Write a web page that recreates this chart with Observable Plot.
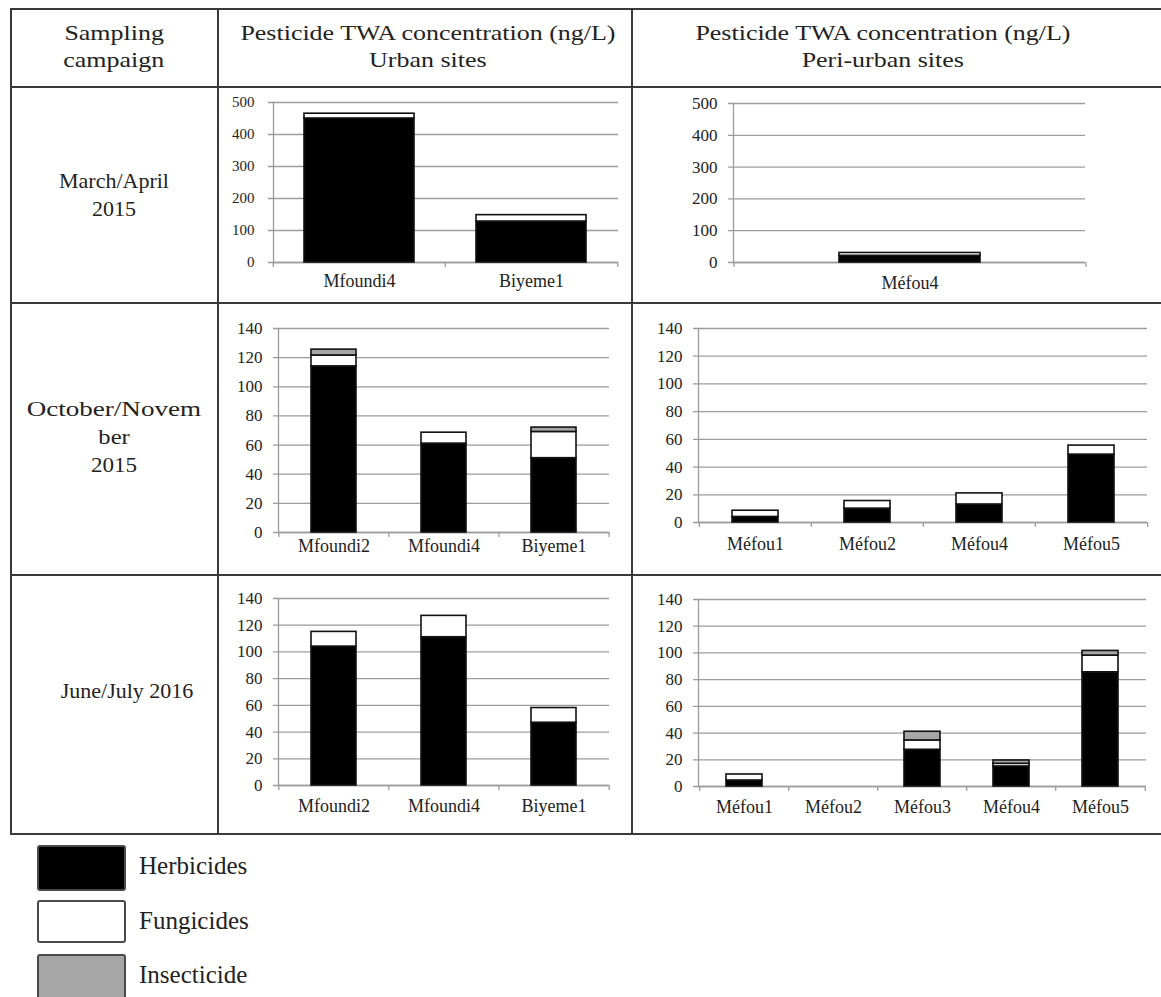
<!DOCTYPE html>
<html>
<head>
<meta charset="utf-8">
<script src="https://cdn.jsdelivr.net/npm/d3@7"></script>
<script src="https://cdn.jsdelivr.net/npm/@observablehq/plot@0.6"></script>
<style>
  html, body { margin: 0; padding: 0; background: #fff; }
  #root { position: relative; width: 1161px; height: 997px; overflow: hidden; background: #fff;
          font-family: "Liberation Serif", "DejaVu Serif", serif; color: #222; }
  .ln { position: absolute; background: #3a3a3a; }
  .txt { position: absolute; text-align: center; white-space: nowrap; }
  .txt span { display: inline-block; }
  .panel { position: absolute; }
  .sw { position: absolute; border: 2px solid #4a4a4a; border-radius: 3px; box-sizing: border-box; }
  .lg { position: absolute; font-size: 25px; line-height: 30px; white-space: nowrap; }
</style>
</head>
<body>
<div id="root"></div>
<script>
// ---------- DATA ----------
const classes = ["Herbicides", "Fungicides", "Insecticide"];
const classColors = ["#000000", "#ffffff", "#a6a6a6"];

const headerCampaign = ["Sampling", "campaign"];
const headerUrban = ["Pesticide TWA concentration (ng/L)", "Urban sites"];
const headerPeri = ["Pesticide TWA concentration (ng/L)", "Peri-urban sites"];
const campaignLabels = [["March/April", "2015"], ["October/Novem", "ber", "2015"], ["June/July 2016"]];

const ticks500 = [0, 100, 200, 300, 400, 500];
const ticks140 = [0, 20, 40, 60, 80, 100, 120, 140];

// March/April 2015
const marAprUrbanSites = ["Mfoundi4", "Biyeme1"];
const marAprUrbanHerbicides = [450, 128];
const marAprUrbanFungicides = [15, 20];
const marAprUrbanInsecticide = [0, 0];

const marAprPeriSites = ["Méfou4"];
const marAprPeriHerbicides = [21];
const marAprPeriFungicides = [9];
const marAprPeriInsecticide = [0];

// October/November 2015
const octNovUrbanSites = ["Mfoundi2", "Mfoundi4", "Biyeme1"];
const octNovUrbanHerbicides = [114, 61, 51];
const octNovUrbanFungicides = [7.5, 7.5, 18];
const octNovUrbanInsecticide = [4, 0, 3];

const octNovPeriSites = ["Méfou1", "Méfou2", "Méfou4", "Méfou5"];
const octNovPeriHerbicides = [4, 10, 13, 49];
const octNovPeriFungicides = [4.5, 5.5, 8, 6.5];
const octNovPeriInsecticide = [0, 0, 0, 0];

// June/July 2016
const junJulUrbanSites = ["Mfoundi2", "Mfoundi4", "Biyeme1"];
const junJulUrbanHerbicides = [104, 111, 47];
const junJulUrbanFungicides = [11, 16, 11];
const junJulUrbanInsecticide = [0, 0, 0];

const junJulPeriSites = ["Méfou1", "Méfou2", "Méfou3", "Méfou4", "Méfou5"];
const junJulPeriHerbicides = [4.5, 0, 27.5, 15, 85.5];
const junJulPeriFungicides = [4.5, 0, 7, 2, 12.5];
const junJulPeriInsecticide = [0, 0, 6.5, 2.5, 3.5];

// ---------- LAYOUT ----------
const root = document.getElementById("root");
function line(l, t, w, h) {
  const d = document.createElement("div"); d.className = "ln";
  Object.assign(d.style, {left: l + "px", top: t + "px", width: w + "px", height: h + "px"});
  root.appendChild(d);
}
line(10, 8, 1160, 2);
line(10, 86, 1160, 2);
line(10, 302, 1160, 2);
line(10, 574, 1160, 2);
line(10, 833, 1160, 2);
line(10, 8, 2, 827);
line(217, 8, 2, 827);
line(631, 8, 2, 827);

function textBlock(lines, cx, top, fontSize, lineHeight, sx) {
  const d = document.createElement("div"); d.className = "txt";
  Object.assign(d.style, {left: (cx - 300) + "px", width: "600px", top: top + "px",
    fontSize: fontSize + "px", lineHeight: lineHeight + "px"});
  d.innerHTML = lines.map((s, i) => `<span style="transform:scaleX(${Array.isArray(sx) ? sx[i] : sx})">${s}</span>`).join("<br>");
  root.appendChild(d);
}
textBlock(headerCampaign, 114, 19, 22, 27, 1.18);
textBlock(headerUrban, 428, 19, 22, 27, 1.18);
textBlock(headerPeri, 883, 19, 22, 27, 1.18);
textBlock(campaignLabels[0], 114, 167, 22, 28, 1.0);
textBlock(campaignLabels[1], 114, 395, 22, 28, [1.23, 1.12, 1.05]);
textBlock(campaignLabels[2], 127, 677, 22, 28, 1.0);

// ---------- PANELS ----------
function panel(sites, herb, fung, ins, yTicks, o) {
  const rows = [];
  sites.forEach((s, i) => {
    [herb[i], fung[i], ins[i]].forEach((v, k) => {
      if (v > 0) rows.push({site: s, cls: classes[k], value: v});
    });
  });
  const n = sites.length;
  const plotW = o.width - o.marginLeft - o.marginRight;
  const step = plotW / n;
  const grey = "#9c9c9c";
  const chart = Plot.plot({
    width: o.width, height: o.height,
    marginLeft: o.marginLeft, marginRight: o.marginRight,
    marginTop: o.marginTop, marginBottom: o.marginBottom,
    style: {fontFamily: "'Liberation Serif', serif", background: "transparent", color: "#222", overflow: "visible"},
    x: {domain: sites, paddingInner: o.padding, paddingOuter: o.padding / 2, axis: null, label: null},
    y: {domain: [0, yTicks[yTicks.length - 1]], axis: null, label: null},
    color: {domain: classes, range: classColors},
    marks: [
      Plot.gridY(yTicks, {stroke: grey, strokeOpacity: 1, strokeWidth: 1.3, insetLeft: -5}),
      Plot.axisY(yTicks, {tickSize: 0, tickPadding: o.yPad, fontSize: o.yFont, fill: "#222", label: null}),
      Plot.frame({anchor: "left", stroke: grey, strokeWidth: 1.3}),
      Plot.ruleY([0], {stroke: grey, strokeWidth: 1.3}),
      Plot.ruleX(sites, {x: d => d, y1: 0, y2: 0, insetBottom: -5, dx: -step / 2, stroke: grey, strokeWidth: 1.3}),
      Plot.ruleX([sites[n - 1]], {x: d => d, y1: 0, y2: 0, insetBottom: -5, dx: step / 2, stroke: grey, strokeWidth: 1.3}),
      Plot.barY(rows, {x: "site", y: "value", fill: "cls", stroke: "#111", strokeWidth: 1.6}),
      Plot.axisX({tickSize: 0, tickPadding: o.xPad, fontSize: o.xFont, fill: "#222", label: null})
    ]
  });
  chart.classList.add("panel");
  chart.style.left = o.left + "px";
  chart.style.top = o.top + "px";
  root.appendChild(chart);
}

panel(marAprUrbanSites, marAprUrbanHerbicides, marAprUrbanFungicides, marAprUrbanInsecticide, ticks500,
  {left: 220, top: 90, width: 410, height: 210, marginLeft: 53, marginRight: 12, marginTop: 12, marginBottom: 38,
   padding: 0.36, yPad: 19, yFont: 15, xPad: 12, xFont: 18});
panel(marAprPeriSites, marAprPeriHerbicides, marAprPeriFungicides, marAprPeriInsecticide, ticks500,
  {left: 634, top: 90, width: 527, height: 210, marginLeft: 99, marginRight: 76, marginTop: 13, marginBottom: 38,
   padding: 0.6, yPad: 16, yFont: 17, xPad: 14, xFont: 18});
panel(octNovUrbanSites, octNovUrbanHerbicides, octNovUrbanFungicides, octNovUrbanInsecticide, ticks140,
  {left: 220, top: 305, width: 410, height: 268, marginLeft: 58, marginRight: 21, marginTop: 23, marginBottom: 41,
   padding: 0.59, yPad: 16, yFont: 17, xPad: 7, xFont: 18});
panel(octNovPeriSites, octNovPeriHerbicides, octNovPeriFungicides, octNovPeriInsecticide, ticks140,
  {left: 634, top: 305, width: 527, height: 268, marginLeft: 64, marginRight: 14, marginTop: 23, marginBottom: 51,
   padding: 0.59, yPad: 16, yFont: 17, xPad: 15, xFont: 18});
panel(junJulUrbanSites, junJulUrbanHerbicides, junJulUrbanFungicides, junJulUrbanInsecticide, ticks140,
  {left: 220, top: 577, width: 410, height: 255, marginLeft: 58, marginRight: 21, marginTop: 21, marginBottom: 47,
   padding: 0.59, yPad: 16, yFont: 17, xPad: 14, xFont: 18});
panel(junJulPeriSites, junJulPeriHerbicides, junJulPeriFungicides, junJulPeriInsecticide, ticks140,
  {left: 634, top: 577, width: 527, height: 255, marginLeft: 64, marginRight: 15, marginTop: 22, marginBottom: 46,
   padding: 0.59, yPad: 16, yFont: 17, xPad: 14, xFont: 18});

// ---------- LEGEND ----------
const swTops = [845, 900, 954];
const swHeights = [46, 43, 46];
classes.forEach((c, i) => {
  const s = document.createElement("div"); s.className = "sw";
  Object.assign(s.style, {left: "37px", top: swTops[i] + "px", width: "89px", height: swHeights[i] + "px", background: classColors[i]});
  root.appendChild(s);
  const t = document.createElement("div"); t.className = "lg";
  Object.assign(t.style, {left: "139px", top: (swTops[i] + 6) + "px"});
  t.textContent = c;
  root.appendChild(t);
});
</script>
</body>
</html>
